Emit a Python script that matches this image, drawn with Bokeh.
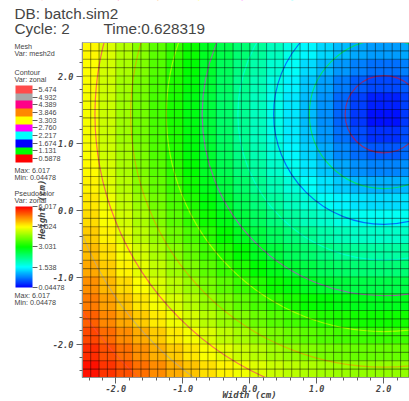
import numpy as np
from bokeh.plotting import figure
from bokeh.embed import file_html
from bokeh.resources import INLINE
from bokeh.models import (AllLabels, ColorBar, FixedTicker, Label, LinearColorMapper, Range1d)

db_title = "DB: batch.sim2"
cycle_text = "Cycle: 2"
time_text = "Time:0.628319"
x_title = "Width (cm)"
y_title = "Height (cm)"

# Field, estimated per 0.25 cm block, top row first (left to right)
zonal_rows = [
 [4.48,4.23,3.99,3.75,3.50,3.26,3.03,2.79,2.56,2.33,2.10,1.88,1.67,1.47,1.29,1.13,1.01,0.95,0.95,1.01],
 [4.43,4.18,3.94,3.69,3.45,3.20,2.96,2.71,2.47,2.24,2.00,1.77,1.54,1.32,1.12,0.93,0.79,0.70,0.70,0.79],
 [4.40,4.15,3.90,3.65,3.40,3.16,2.91,2.66,2.42,2.17,1.93,1.69,1.45,1.21,0.98,0.77,0.58,0.46,0.46,0.58],
 [4.38,4.13,3.88,3.63,3.38,3.13,2.88,2.63,2.38,2.14,1.89,1.64,1.39,1.14,0.90,0.66,0.42,0.24,0.24,0.42],
 [4.38,4.13,3.88,3.63,3.38,3.13,2.88,2.63,2.38,2.13,1.88,1.63,1.38,1.13,0.88,0.63,0.38,0.14,0.14,0.38],
 [4.39,4.14,3.89,3.64,3.39,3.14,2.89,2.64,2.39,2.15,1.90,1.65,1.41,1.17,0.93,0.69,0.48,0.33,0.33,0.48],
 [4.41,4.16,3.92,3.67,3.42,3.17,2.93,2.68,2.44,2.20,1.96,1.72,1.48,1.26,1.04,0.84,0.67,0.57,0.57,0.67],
 [4.45,4.20,3.96,3.71,3.47,3.23,2.99,2.75,2.51,2.27,2.04,1.81,1.59,1.39,1.19,1.02,0.89,0.82,0.82,0.89],
 [4.50,4.26,4.02,3.77,3.54,3.30,3.06,2.83,2.60,2.37,2.15,1.94,1.73,1.54,1.37,1.22,1.12,1.06,1.06,1.12],
 [4.57,4.33,4.09,3.85,3.62,3.39,3.16,2.93,2.71,2.49,2.28,2.08,1.89,1.72,1.57,1.45,1.36,1.31,1.31,1.36],
 [4.64,4.41,4.18,3.94,3.72,3.49,3.27,3.05,2.84,2.63,2.44,2.25,2.08,1.92,1.79,1.68,1.60,1.56,1.56,1.60],
 [4.73,4.50,4.28,4.05,3.83,3.61,3.40,3.19,2.98,2.79,2.60,2.43,2.27,2.13,2.01,1.91,1.84,1.81,1.81,1.84],
 [4.83,4.61,4.39,4.17,3.95,3.74,3.53,3.33,3.14,2.96,2.78,2.62,2.47,2.34,2.23,2.15,2.09,2.06,2.06,2.09],
 [4.94,4.73,4.51,4.30,4.09,3.88,3.69,3.49,3.31,3.14,2.97,2.82,2.68,2.57,2.47,2.39,2.33,2.31,2.31,2.33],
 [5.07,4.85,4.64,4.44,4.23,4.04,3.85,3.66,3.49,3.32,3.17,3.03,2.90,2.79,2.70,2.63,2.58,2.56,2.56,2.58],
 [5.20,4.99,4.78,4.58,4.39,4.20,4.02,3.84,3.68,3.52,3.37,3.24,3.12,3.02,2.94,2.87,2.83,2.81,2.81,2.83],
 [5.34,5.13,4.93,4.74,4.55,4.37,4.20,4.03,3.87,3.72,3.58,3.46,3.35,3.26,3.18,3.12,3.08,3.06,3.06,3.08],
 [5.48,5.29,5.09,4.91,4.72,4.55,4.38,4.22,4.07,3.93,3.80,3.68,3.58,3.49,3.42,3.36,3.33,3.31,3.31,3.33],
 [5.64,5.45,5.26,5.08,4.90,4.73,4.57,4.42,4.28,4.14,4.02,3.91,3.81,3.73,3.66,3.61,3.57,3.56,3.56,3.57],
 [5.80,5.61,5.43,5.26,5.09,4.92,4.77,4.62,4.49,4.36,4.24,4.14,4.05,3.97,3.91,3.86,3.82,3.81,3.81,3.82],
]
field_gain = 1.018  # the block estimates read about this much low against the colour bar
vmin, vmax = 0.04478, 6.017
pc_ticks = [0.04478, 1.538, 3.031, 4.524, 6.017]
pc_labels = ["0.04478", "1.538", "3.031", "4.524", "6.017"]

contour_levels = [0.5878, 1.131, 1.674, 2.217, 2.760, 3.303, 3.846, 4.389, 4.932, 5.474]
contour_labels = ["0.5878", "1.131", "1.674", "2.217", "2.760", "3.303", "3.846", "4.389", "4.932", "5.474"]
# radius of each contour circle in cm, measured on the picture
contour_radii = [0.577, 1.111, 1.644, 2.178, 2.711, 3.245, 3.778, 4.311, 4.845, 5.377]
contour_colors = ["#ff0000", "#00ff00", "#0000ff", "#00ffff", "#ff00ff",
                  "#ffff00", "#ff8700", "#ff0087", "#a8a8a8", "#ff4b4b"]
minimum_at = (2.0, 1.43)

mesh_cells = 40
lo, hi = -2.5, 2.5

ink = "#454545"

# blue-cyan-green-yellow-red ramp
stops = [(0, 0, 255), (0, 255, 255), (0, 255, 0), (255, 255, 0), (255, 0, 0)]
pos = np.linspace(0, 1, 256)
sp = np.linspace(0, 1, len(stops))
ramp = ["#%02x%02x%02x" % tuple(int(round(np.interp(t, sp, [s[c] for s in stops]))) for c in range(3)) for t in pos]
mapper = LinearColorMapper(palette=ramp, low=vmin, high=vmax)

W, H = 409, 401
scale = 67.0
x0_px, y0_px = 249.3, 209.5
xr = Range1d(-x0_px / scale, (W - x0_px) / scale)
yr = Range1d((y0_px - H) / scale, y0_px / scale)

p = figure(width=W, height=H, output_backend="svg", toolbar_location=None, x_range=xr, y_range=yr,
           min_border=0)
p.margin = (0, 0, 0, 0)
p.outline_line_color = None
p.background_fill_color = "white"
p.grid.visible = False

field = np.array(zonal_rows)[::-1] * field_gain
p.image(image=[field], x=lo, y=lo, dw=hi - lo, dh=hi - lo, color_mapper=mapper, level="image")

p.circle(x=[minimum_at[0]] * len(contour_radii), y=[minimum_at[1]] * len(contour_radii),
         radius=contour_radii, fill_color=None, line_color=contour_colors, line_alpha=0.55, line_width=1.2,
         level="image")

# the plot region is the whole canvas here, so blank what lies outside the mesh
p.quad(left=[xr.start, xr.start, xr.start], right=[lo, xr.end, xr.end],
       bottom=[yr.start, hi, yr.start], top=[yr.end, yr.end, lo],
       fill_color="white", line_color=None, level="underlay")

edges = np.linspace(lo, hi, mesh_cells + 1).tolist()
p.segment(x0=edges, y0=[lo] * len(edges), x1=edges, y1=[hi] * len(edges),
          line_color="black", line_alpha=0.4, line_width=1.1)
p.segment(x0=[lo] * len(edges), y0=edges, x1=[hi] * len(edges), y1=edges,
          line_color="black", line_alpha=0.4, line_width=1.1)
p.segment(x0=[lo], y0=[hi], x1=[hi], y1=[hi], line_color="#b0b0b0", line_width=1)

tick_major = [-2.0, -1.0, 0.0, 1.0, 2.0]
tick_minor = [round(-2.4 + 0.2 * i, 1) for i in range(25)]
for ax in (p.xaxis[0], p.yaxis[0]):
    ax.fixed_location = lo
    ax.bounds = (lo, hi)
    ax.ticker = FixedTicker(ticks=tick_major, minor_ticks=tick_minor)
    ax.major_label_overrides = {t: f"{t:.1f}" for t in tick_major}
    ax.major_label_text_font = "DejaVu Sans Mono"
    ax.major_label_text_font_style = "bold italic"
    ax.major_label_text_font_size = "8.5px"
    ax.major_label_text_color = ink
    ax.axis_line_color = "#909090"
    ax.major_tick_line_color = "#606060"
    ax.minor_tick_line_color = "#606060"
    ax.major_tick_in = 0
    ax.major_tick_out = 6
    ax.minor_tick_in = 0
    ax.minor_tick_out = 3
p.xaxis[0].major_label_standoff = 1
p.yaxis[0].major_label_standoff = 3


def note(text, x, y, size, font="Liberation Sans", style="normal", angle=0.0, align="left"):
    p.add_layout(Label(x=x, y=H - y, x_units="screen", y_units="screen", text=text,
                       text_font=font, text_font_style=style, text_font_size=size, text_color=ink,
                       text_baseline="middle", text_align=align, angle=angle))


note(db_title, 14, 13, "15.3px")
note(cycle_text, 14, 28, "15.3px")
note(time_text, 103, 28, "15.3px")
for text, y in (("Mesh", 46), ("Var: mesh2d", 53), ("Contour", 72), ("Var: zonal", 79),
                ("Max: 6.017", 170), ("Min: 0.04478", 177), ("Pseudocolor", 193), ("Var: zonal", 200),
                ("Max: 6.017", 295), ("Min: 0.04478", 302)):
    note(text, 14, y, "7.2px")
note(x_title, 249, 394.5, "9px", "DejaVu Sans Mono", "bold italic", align="center")
note(y_title, 41, 209, "9px", "DejaVu Sans Mono", "bold italic", angle=np.pi / 2, align="center")


def bar(cm, ticks, labels, top, bottom):
    cb = ColorBar(color_mapper=cm, ticker=FixedTicker(ticks=ticks),
                  major_label_overrides=dict(zip(ticks, labels)),
                  major_label_policy=AllLabels(),
                  location=(15, H - bottom), width=17, height=bottom - top,
                  padding=0, margin=0, background_fill_alpha=0, border_line_color=None,
                  bar_line_color=None, major_tick_in=0, major_tick_out=5,
                  major_tick_line_color="#606060", minor_tick_line_color=None,
                  label_standoff=1, major_label_text_font="Liberation Sans",
                  major_label_text_font_size="7.2px", major_label_text_color=ink)
    p.add_layout(cb)


bar(mapper, pc_ticks, pc_labels, 206, 287)
step = (contour_levels[-1] - contour_levels[0]) / 9
band_mapper = LinearColorMapper(palette=contour_colors,
                                low=contour_levels[0] - step / 2, high=contour_levels[-1] + step / 2)
bar(band_mapper, contour_levels, contour_labels, 85, 162)

open("out.html", "w").write(file_html(p, INLINE))
